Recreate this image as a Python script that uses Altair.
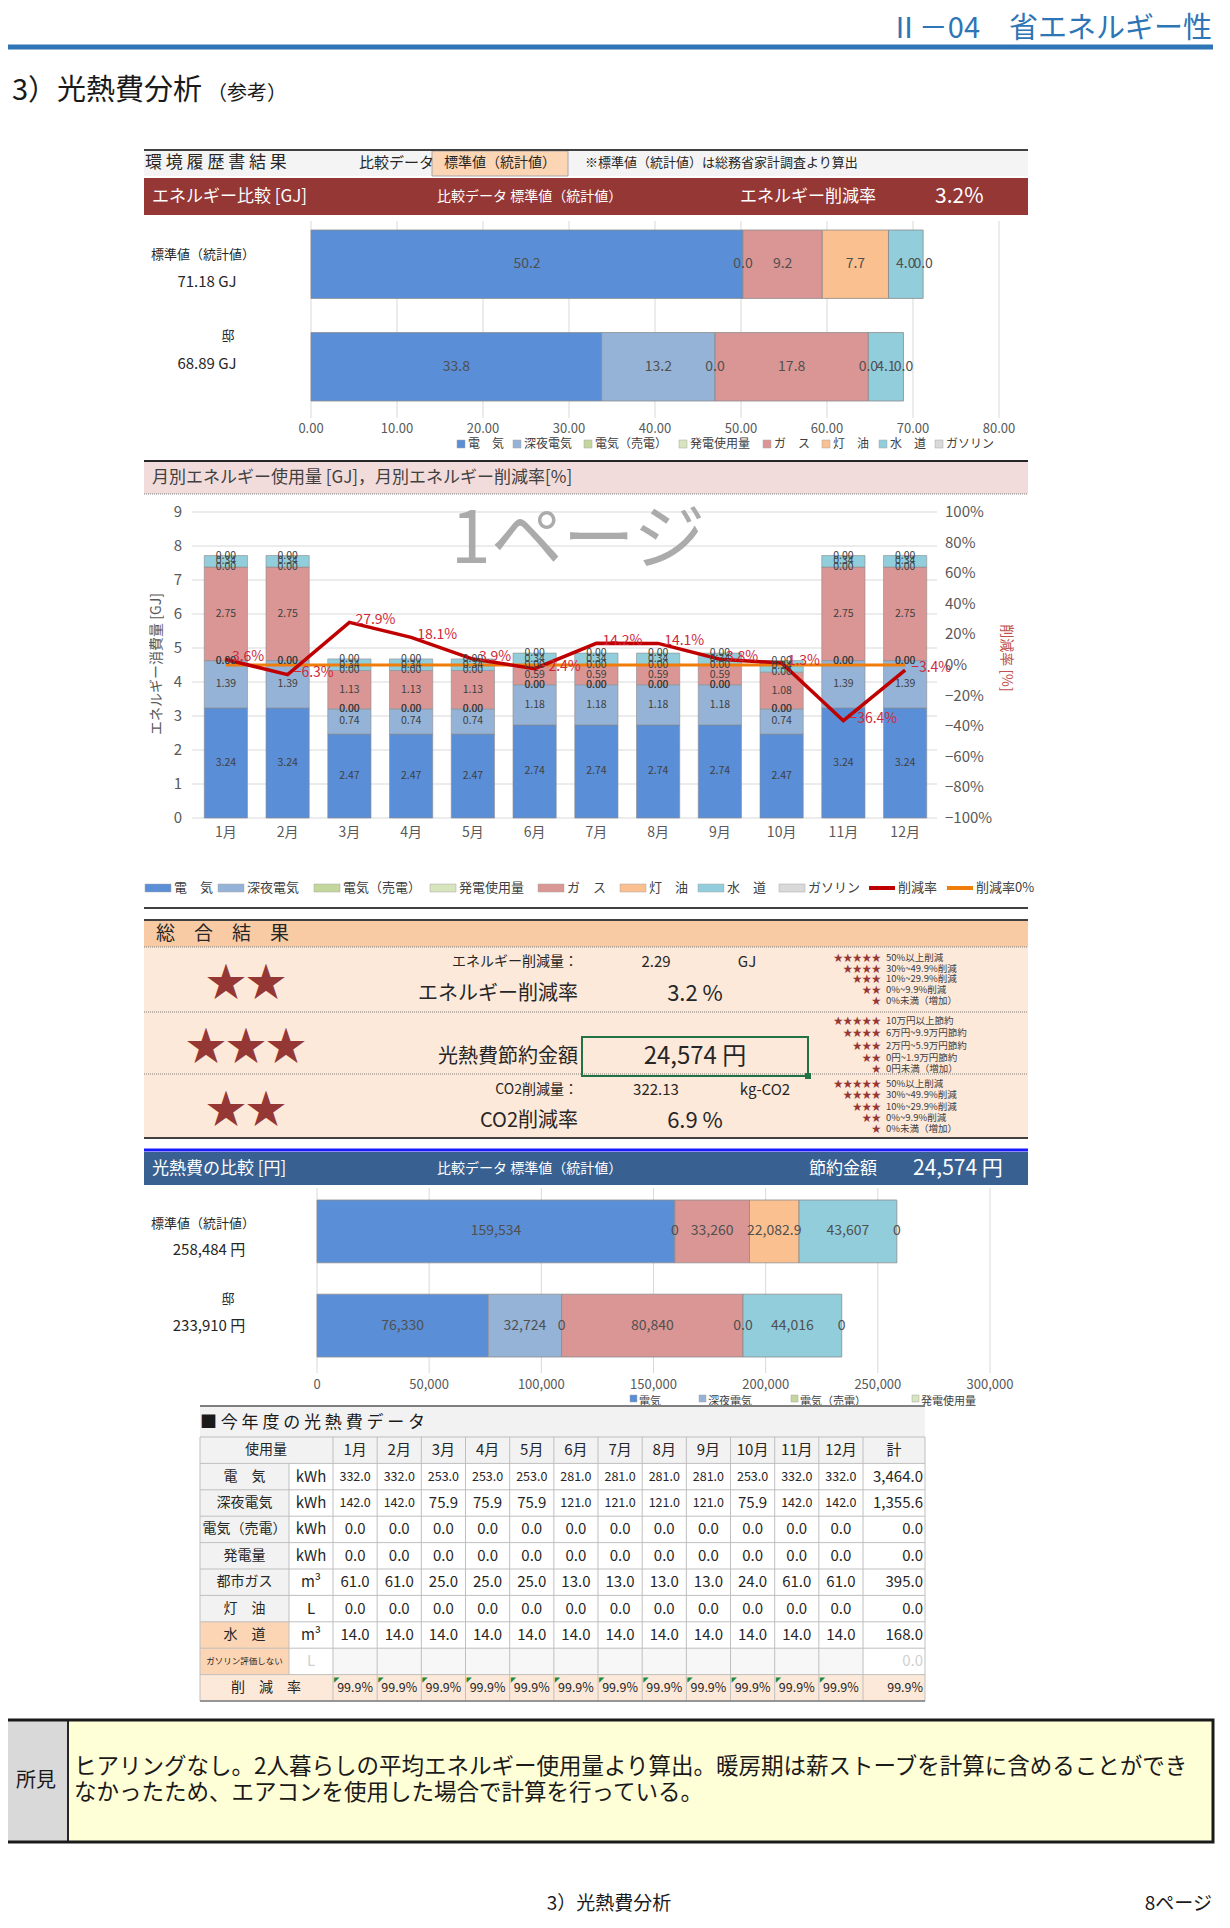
import altair as alt
import pandas as pd

FONT = "Noto Sans CJK JP"
OX, OY = 8, 8  # page margin

# ====================== DATA ======================
series = ["電　気", "深夜電気", "電気（売電）", "発電使用量", "ガ　ス", "灯　油", "水　道", "ガソリン"]
series_colors = ["#5a8ed6", "#95b3d7", "#c3d69b", "#d7e4bd", "#da9694", "#fac090", "#92cddc", "#d9d9d9"]

# energy comparison [GJ]
energy_cats = ["標準値（統計値）", "邸"]
energy_totals = ["71.18 GJ", "68.89 GJ"]
energy_std = [50.23, 0.0, 0.0, 0.0, 9.22, 7.70, 4.03, 0.0]
energy_home = [33.80, 13.18, 0.0, 0.0, 17.83, 0.0, 4.08, 0.0]
energy_std_labels = ["50.2", "0.0", "", "", "9.2", "7.7", "4.0", "0.0"]
energy_home_labels = ["33.8", "13.2", "0.0", "", "17.8", "0.0", "4.1", "0.0"]
energy_ticks = [0, 10, 20, 30, 40, 50, 60, 70, 80]

# monthly energy [GJ]
months = ["1月", "2月", "3月", "4月", "5月", "6月", "7月", "8月", "9月", "10月", "11月", "12月"]
m_denki = [3.24, 3.24, 2.47, 2.47, 2.47, 2.74, 2.74, 2.74, 2.74, 2.47, 3.24, 3.24]
m_shinya = [1.39, 1.39, 0.74, 0.74, 0.74, 1.18, 1.18, 1.18, 1.18, 0.74, 1.39, 1.39]
m_baiden = [0.0, 0.0, 0.0, 0.0, 0.0, 0.0, 0.0, 0.0, 0.0, 0.0, 0.0, 0.0]
m_hatsuden = [0.0, 0.0, 0.0, 0.0, 0.0, 0.0, 0.0, 0.0, 0.0, 0.0, 0.0, 0.0]
m_gas = [2.75, 2.75, 1.13, 1.13, 1.13, 0.59, 0.59, 0.59, 0.59, 1.08, 2.75, 2.75]
m_toyu = [0.0, 0.0, 0.0, 0.0, 0.0, 0.0, 0.0, 0.0, 0.0, 0.0, 0.0, 0.0]
m_suido = [0.34, 0.34, 0.34, 0.34, 0.34, 0.34, 0.34, 0.34, 0.34, 0.34, 0.34, 0.34]
m_gasoline = [0.0, 0.0, 0.0, 0.0, 0.0, 0.0, 0.0, 0.0, 0.0, 0.0, 0.0, 0.0]
reduction_rate = [3.6, -6.3, 27.9, 18.1, 3.9, -2.4, 14.2, 14.1, 3.8, 1.3, -36.4, -3.4]
gj_ticks = [0, 1, 2, 3, 4, 5, 6, 7, 8, 9]
rate_ticks = [-100, -80, -60, -40, -20, 0, 20, 40, 60, 80, 100]

# cost comparison [円]
cost_cats = ["標準値（統計値）", "邸"]
cost_totals = ["258,484 円", "233,910 円"]
cost_std = [159534, 0, 0, 0, 33260, 22082.9, 43607, 0]
cost_home = [76330, 32724, 0, 0, 80840, 0, 44016, 0]
cost_std_labels = ["159,534", "0", "", "", "33,260", "22,082.9", "43,607", "0"]
cost_home_labels = ["76,330", "32,724", "0", "", "80,840", "0.0", "44,016", "0"]
cost_ticks = [0, 50000, 100000, 150000, 200000, 250000, 300000]

# summary
energy_reduction_gj = "2.29"
energy_reduction_rate = "3.2 %"
saving_yen = "24,574 円"
co2_reduction = "322.13"
co2_rate = "6.9 %"
stars = ["★★", "★★★", "★★"]
star_marks = ["★★★★★", "★★★★", "★★★", "★★", "★"]
legend_pct = ["50%以上削減", "30%~49.9%削減", "10%~29.9%削減", "0%~9.9%削減", "0%未満（増加）"]
legend_yen = ["10万円以上節約", "6万円~9.9万円節約", "2万円~5.9万円節約", "0円~1.9万円節約", "0円未満（増加）"]

# usage table
table_rows = ["電　気", "深夜電気", "電気（売電）", "発電量", "都市ガス", "灯　油", "水　道", "ガソリン評価しない"]
table_units = ["kWh", "kWh", "kWh", "kWh", "m³", "L", "m³", "L"]
u_denki = [332.0, 332.0, 253.0, 253.0, 253.0, 281.0, 281.0, 281.0, 281.0, 253.0, 332.0, 332.0]
u_shinya = [142.0, 142.0, 75.9, 75.9, 75.9, 121.0, 121.0, 121.0, 121.0, 75.9, 142.0, 142.0]
u_baiden = [0.0, 0.0, 0.0, 0.0, 0.0, 0.0, 0.0, 0.0, 0.0, 0.0, 0.0, 0.0]
u_hatsuden = [0.0, 0.0, 0.0, 0.0, 0.0, 0.0, 0.0, 0.0, 0.0, 0.0, 0.0, 0.0]
u_gas = [61.0, 61.0, 25.0, 25.0, 25.0, 13.0, 13.0, 13.0, 13.0, 24.0, 61.0, 61.0]
u_toyu = [0.0, 0.0, 0.0, 0.0, 0.0, 0.0, 0.0, 0.0, 0.0, 0.0, 0.0, 0.0]
u_suido = [14.0, 14.0, 14.0, 14.0, 14.0, 14.0, 14.0, 14.0, 14.0, 14.0, 14.0, 14.0]
table_rate = ["99.9%"] * 12
table_rate_total = "99.9%"

remark_lines = [
    "ヒアリングなし。2人暮らしの平均エネルギー使用量より算出。暖房期は薪ストーブを計算に含めることができ",
    "なかったため、エアコンを使用した場合で計算を行っている。",
]

# ====================== HELPERS ======================
def shift(d):
    for c in d.columns:
        if c in ("x", "x2"):
            d[c] = d[c] - OX
        if c in ("y", "y2"):
            d[c] = d[c] - OY
    return d


def rects(rows):
    d = shift(pd.DataFrame(rows, columns=["x", "x2", "y", "y2", "fill", "stroke", "sw"]))
    return alt.Chart(d).mark_rect().encode(
        x=alt.X("x:Q", scale=None, axis=None), x2="x2:Q",
        y=alt.Y("y:Q", scale=None, axis=None), y2="y2:Q",
        fill=alt.Fill("fill:N", scale=None, legend=None),
        stroke=alt.Stroke("stroke:N", scale=None, legend=None),
        strokeWidth=alt.StrokeWidth("sw:Q", scale=None, legend=None),
    )


def rules(rows, dash=None):
    d = shift(pd.DataFrame(rows, columns=["x", "x2", "y", "y2", "color", "sw"]))
    kw = {} if dash is None else {"strokeDash": dash}
    return alt.Chart(d).mark_rule(**kw).encode(
        x=alt.X("x:Q", scale=None, axis=None), x2="x2:Q",
        y=alt.Y("y:Q", scale=None, axis=None), y2="y2:Q",
        color=alt.Color("color:N", scale=None, legend=None),
        strokeWidth=alt.StrokeWidth("sw:Q", scale=None, legend=None),
    )


def texts(rows, align, angle=None):
    d = shift(pd.DataFrame(rows, columns=["x", "y", "t", "size", "color"]))
    kw = dict(align=align, baseline="middle", font=FONT)
    if angle is not None:
        kw["angle"] = angle
    return alt.Chart(d).mark_text(**kw).encode(
        x=alt.X("x:Q", scale=None, axis=None),
        y=alt.Y("y:Q", scale=None, axis=None),
        text="t:N",
        size=alt.Size("size:Q", scale=None, legend=None),
        color=alt.Color("color:N", scale=None, legend=None),
    )


def stack_rows(cats, value_lists, label_lists):
    rows = []
    for cat, vals, labs in zip(cats, value_lists, label_lists):
        cum = 0.0
        for s, col, v, lab in zip(series, series_colors, vals, labs):
            rows.append({"cat": cat, "series": s, "color": col, "start": cum,
                         "end": cum + v, "mid": cum + v / 2, "label": lab, "v": v})
            cum += v
    return pd.DataFrame(rows)


def hbar_block(cats, vals, labs, ticks, xdom, xr, yr, grid_y, tick_y, tick_fmt):
    xs = alt.Scale(domain=xdom, range=[xr[0] - OX, xr[1] - OX], nice=False, zero=False)
    ys = alt.Scale(type="band", domain=cats, range=[yr[0] - OY, yr[1] - OY], paddingInner=0.333, paddingOuter=0)
    d = stack_rows(cats, vals, labs)
    t = pd.DataFrame({"v": ticks})
    grid = alt.Chart(t).mark_rule(color="#d9d9d9", strokeWidth=1).encode(
        x=alt.X("v:Q", scale=xs, axis=None), y=alt.value(grid_y[0] - OY), y2=alt.value(grid_y[1] - OY))
    ticklab = alt.Chart(t).mark_text(font=FONT, fontSize=13, color="#595959").encode(
        x=alt.X("v:Q", scale=xs, axis=None), y=alt.value(tick_y - OY),
        text=alt.Text("v:Q", format=tick_fmt))
    bars = alt.Chart(d[d["v"] > 0]).mark_bar(stroke="#8c8c8c", strokeWidth=0.8).encode(
        x=alt.X("start:Q", scale=xs, axis=None), x2="end:Q",
        y=alt.Y("cat:N", scale=ys, axis=None),
        fill=alt.Fill("color:N", scale=None, legend=None))
    lab = alt.Chart(d[d["label"] != ""]).mark_text(font=FONT, fontSize=14, color="#505050").encode(
        x=alt.X("mid:Q", scale=xs, axis=None),
        y=alt.Y("cat:N", scale=ys, axis=None, bandPosition=0.5),
        text="label:N")
    return [grid, bars], [ticklab, lab]


layers = []

# ====================== BACKGROUNDS ======================
layers.append(rects([
    (144, 1028, 150, 176, "#f4f4f4", "none", 0),
    (432, 568, 151, 176, "#fcd5b4", "#a6a6a6", 1),
    (144, 1028, 178, 215, "#953735", "none", 0),
    (144, 1028, 461, 494, "#f2dcdb", "none", 0),
    (144, 1028, 920, 947, "#f9cba4", "none", 0),
    (144, 1028, 947, 1138, "#fde9d9", "none", 0),
    (144, 1028, 1152, 1185, "#386192", "none", 0),
    (4, 1213, 1720, 1842, "#ffffd7", "none", 0),
    (4, 68, 1720, 1842, "#d9d9d9", "none", 0),
]))

# ====================== CHART A: energy ======================
a_back, a_front = hbar_block(energy_cats, [energy_std, energy_home], [energy_std_labels, energy_home_labels],
                             energy_ticks, [0, 80], (311, 999), (230, 401), (221, 418), 429, ".2f")
layers += a_back

# ====================== CHART C: cost ======================
c_back, c_front = hbar_block(cost_cats, [cost_std, cost_home], [cost_std_labels, cost_home_labels],
                             cost_ticks, [0, 300000], (317, 990), (1200, 1357), (1188, 1373), 1385, ",")
layers += c_back

# ====================== CHART B: monthly ======================
xB = alt.Scale(type="band", domain=months, range=[195 - OX, 936 - OX], paddingInner=0.3, paddingOuter=0.15)
yB = alt.Scale(domain=[0, 9], range=[818 - OY, 512 - OY], nice=False, zero=False)
yR = alt.Scale(domain=[-100, 100], range=[818 - OY, 512 - OY], nice=False, zero=False)

monthly_series = [m_denki, m_shinya, m_baiden, m_hatsuden, m_gas, m_toyu, m_suido, m_gasoline]
rowsB = []
for i, m in enumerate(months):
    cum = 0.0
    for s, col, lst in zip(series, series_colors, monthly_series):
        v = lst[i]
        rowsB.append({"month": m, "series": s, "color": col, "start": cum, "end": cum + v, "mid": cum + v / 2, "v": v})
        cum += v
dfB = pd.DataFrame(rowsB)
dfL = pd.DataFrame({"month": months, "idx": list(range(12)), "rate": reduction_rate, "zero": [0] * 12})

gridB = alt.Chart(pd.DataFrame({"v": gj_ticks})).mark_rule(color="#d9d9d9", strokeWidth=1).encode(
    y=alt.Y("v:Q", scale=yB, axis=None), x=alt.value(192 - OX), x2=alt.value(937 - OX))
barsB = alt.Chart(dfB[dfB["v"] > 0]).mark_bar(stroke="#8c8c8c", strokeWidth=0.6).encode(
    x=alt.X("month:N", scale=xB, axis=None),
    y=alt.Y("start:Q", scale=yB, axis=None), y2="end:Q",
    fill=alt.Fill("color:N", scale=None, legend=None))
zeroLine = alt.Chart(dfL).mark_line(color="#f07d0a", strokeWidth=3).encode(
    x=alt.X("month:N", scale=xB, axis=None, bandPosition=0.5),
    y=alt.Y("zero:Q", scale=yR, axis=None), order=alt.Order("idx:Q"))
rateLine = alt.Chart(dfL).mark_line(color="#c00000", strokeWidth=3.5).encode(
    x=alt.X("month:N", scale=xB, axis=None, bandPosition=0.5),
    y=alt.Y("rate:Q", scale=yR, axis=None), order=alt.Order("idx:Q"))
layers += [gridB, barsB, zeroLine, rateLine]

segLab = alt.Chart(dfB).mark_text(font=FONT, fontSize=10.5, color="#404040").encode(
    x=alt.X("month:N", scale=xB, axis=None, bandPosition=0.5),
    y=alt.Y("mid:Q", scale=yB, axis=None),
    text=alt.Text("v:Q", format=".2f"))
rateLab = alt.Chart(dfL).transform_calculate(lab="format(datum.rate, '.1f') + '%'").mark_text(
    font=FONT, fontSize=14, color="#d0283c", align="left", dx=6, dy=-2).encode(
    x=alt.X("month:N", scale=xB, axis=None, bandPosition=0.5),
    y=alt.Y("rate:Q", scale=yR, axis=None), text="lab:N")
leftTicks = alt.Chart(pd.DataFrame({"v": gj_ticks})).mark_text(
    font=FONT, fontSize=15, color="#595959", align="right").encode(
    y=alt.Y("v:Q", scale=yB, axis=None), x=alt.value(182 - OX), text=alt.Text("v:Q", format="d"))
rightTicks = alt.Chart(pd.DataFrame({"v": rate_ticks})).transform_calculate(
    lab="format(datum.v, 'd') + '%'").mark_text(
    font=FONT, fontSize=15, color="#595959", align="left").encode(
    y=alt.Y("v:Q", scale=yR, axis=None), x=alt.value(945 - OX), text="lab:N")
monthLab = alt.Chart(pd.DataFrame({"month": months})).mark_text(
    font=FONT, fontSize=14, color="#595959").encode(
    x=alt.X("month:N", scale=xB, axis=None, bandPosition=0.5), y=alt.value(833 - OY), text="month:N")

# ====================== LEGENDS ======================
legA_x = [457, 513, 584, 679, 763, 822, 879, 935]
legA = [(x, x + 8, 440, 448, c, "#a6a6a6", 0.5) for x, c in zip(legA_x, series_colors)]
legB_x = [145, 218, 314, 430, 538, 620, 698, 779, 869, 947]
legB = [(x, x + 26, 884, 892, c, "#a6a6a6", 0.5) for x, c in zip(legB_x[:8], series_colors)]
legB += [(legB_x[8], legB_x[8] + 26, 886, 890, "#c00000", "none", 0),
         (legB_x[9], legB_x[9] + 26, 886, 890, "#f07d0a", "none", 0)]
legC_x = [630, 699, 791, 912]
legC = [(x, x + 7, 1395, 1402, c, "#a6a6a6", 0.5) for x, c in zip(legC_x, series_colors[:4])]
layers.append(rects(legA + legB + legC))
leg_text = [(x + 11, 444, s, 12, "#404040") for x, s in zip(legA_x, series)]
leg_text += [(x + 29, 888, s, 13, "#404040") for x, s in zip(legB_x, series + ["削減率", "削減率0%"])]
leg_text_c = [(x + 9, 1402, s.replace("　", ""), 11, "#404040") for x, s in zip(legC_x, series[:4])]
layers.append(texts(leg_text_c, "left"))

# ====================== TABLE ======================
T_TOP, RH = 1437, 26.4
C_LAB, C_UNIT, C_M0, CW, C_TOT, C_END = 200, 289, 333, 44.17, 863, 925
row_y = [T_TOP + k * RH for k in range(11)]
layers.append(rects([
    (C_LAB, C_END, 1406, T_TOP, "#f2f2f2", "none", 0),
    (C_LAB, C_END, row_y[0], row_y[1], "#f2f2f2", "none", 0),
    (C_LAB, C_END, row_y[1], row_y[9], "#ffffff", "none", 0),
    (C_LAB, C_UNIT, row_y[1], row_y[7], "#f2f2f2", "none", 0),
    (C_LAB, C_UNIT, row_y[7], row_y[9], "#fcd5b4", "none", 0),
    (C_M0, C_TOT, row_y[8], row_y[9], "#f7f7f7", "none", 0),
    (C_LAB, C_END, row_y[9], row_y[10], "#fde9d9", "none", 0),
]))
grid_rows = [(C_LAB, C_END, y, y, "#bfbfbf", 1) for y in row_y]
grid_rows += [(x, x, row_y[0], row_y[10], "#bfbfbf", 1)
              for x in [C_LAB] + [C_M0 + i * CW for i in range(13)] + [C_END]]
grid_rows += [(C_UNIT, C_UNIT, row_y[1], row_y[9], "#bfbfbf", 1)]
layers.append(rules(grid_rows))

row_keys = ["hdr"] + table_rows + ["rate"]
colS = alt.Scale(type="band", domain=months, range=[C_M0 - OX, C_TOT - OX], paddingInner=0, paddingOuter=0)
rowS = alt.Scale(type="band", domain=row_keys, range=[T_TOP - OY, row_y[10] - OY], paddingInner=0, paddingOuter=0)

table_values = [u_denki, u_shinya, u_baiden, u_hatsuden, u_gas, u_toyu, u_suido]
cells = []
for r, vals in zip(table_rows, table_values):
    for m, v in zip(months, vals):
        t = f"{v:.1f}"
        cells.append({"row": r, "month": m, "t": t, "s": (15 if len(t) <= 4 else 12.5)})
for m, t in zip(months, table_rate):
    cells.append({"row": "rate", "month": m, "t": t, "s": 12.5})
dfCells = pd.DataFrame(cells)
cellText = alt.Chart(dfCells).mark_text(font=FONT, color="#262626").encode(
    x=alt.X("month:N", scale=colS, axis=None, bandPosition=0.5),
    y=alt.Y("row:N", scale=rowS, axis=None, bandPosition=0.5), text="t:N",
    size=alt.Size("s:Q", scale=None, legend=None))
hdrText = alt.Chart(pd.DataFrame({"month": months, "row": ["hdr"] * 12})).mark_text(
    font=FONT, fontSize=15, color="#262626").encode(
    x=alt.X("month:N", scale=colS, axis=None, bandPosition=0.5),
    y=alt.Y("row:N", scale=rowS, axis=None, bandPosition=0.5), text="month:N")
flags = alt.Chart(pd.DataFrame({"month": months, "row": ["rate"] * 12})).mark_text(
    font="DejaVu Sans", fontSize=7, color="#1e8a3a", align="left", baseline="top", dx=1, dy=1).encode(
    x=alt.X("month:N", scale=colS, axis=None, bandPosition=0),
    y=alt.Y("row:N", scale=rowS, axis=None, bandPosition=0), text=alt.value("◤"))

totals = []
for r, vals in zip(table_rows, table_values):
    totals.append({"row": r, "t": f"{sum(vals):,.1f}", "c": "#262626", "s": 15})
totals.append({"row": table_rows[7], "t": "0.0", "c": "#d0d0d0", "s": 15})
totals.append({"row": "rate", "t": table_rate_total, "c": "#262626", "s": 12.5})
totText = alt.Chart(pd.DataFrame(totals)).mark_text(font=FONT, align="right").encode(
    x=alt.value(923 - OX), y=alt.Y("row:N", scale=rowS, axis=None, bandPosition=0.5), text="t:N",
    color=alt.Color("c:N", scale=None, legend=None), size=alt.Size("s:Q", scale=None, legend=None))
lab_rows = [{"row": r, "t": r, "s": (8.5 if i == 7 else 14), "c": "#262626"} for i, r in enumerate(table_rows)]
labText = alt.Chart(pd.DataFrame(lab_rows)).mark_text(font=FONT).encode(
    x=alt.value(244.5 - OX), y=alt.Y("row:N", scale=rowS, axis=None, bandPosition=0.5), text="t:N",
    color=alt.Color("c:N", scale=None, legend=None), size=alt.Size("s:Q", scale=None, legend=None))
unit_rows = [{"row": r, "t": u, "c": ("#d0d0d0" if i == 7 else "#262626")} for i, (r, u) in enumerate(zip(table_rows, table_units))]
unitText = alt.Chart(pd.DataFrame(unit_rows)).mark_text(font=FONT, fontSize=15).encode(
    x=alt.value(311 - OX), y=alt.Y("row:N", scale=rowS, axis=None, bandPosition=0.5), text="t:N",
    color=alt.Color("c:N", scale=None, legend=None))

# ====================== LINES ======================
layers.append(rules([
    (5, 1213, 47, 47, "#2e75b6", 5),
    (144, 1028, 150, 150, "#404040", 2),
    (144, 1028, 461, 461, "#262626", 2),
    (144, 1028, 908, 908, "#404040", 2),
    (144, 1028, 920, 920, "#404040", 2),
    (144, 1028, 1138, 1138, "#404040", 2),
    (144, 1028, 1150, 1150, "#1a1aff", 3),
    (200, 925, 1406, 1406, "#7f7f7f", 2),
    (200, 925, 1701, 1701, "#7f7f7f", 1.5),
    (68, 68, 1720, 1842, "#262626", 2),
]))
layers.append(rules([
    (144, 1028, 494, 494, "#7f7f7f", 1),
    (144, 1028, 947, 947, "#7f7f7f", 1),
    (144, 1028, 1012, 1012, "#7f7f7f", 1),
    (144, 1028, 1074, 1074, "#7f7f7f", 1),
], dash=[1, 1]))
layers.append(rects([
    (582, 808, 1037, 1076, "none", "#217346", 2),
    (805, 811, 1073, 1079, "#217346", "none", 0),
    (4, 1213, 1720, 1842, "none", "#1a1a1a", 3),
]))

# ====================== DATA LABELS ======================
layers += a_front + c_front
layers += [segLab, rateLab, leftTicks, rightTicks, monthLab]
layers += [cellText, hdrText, flags, totText, labText, unitText]

# ====================== TEXTS ======================
left_rows = [
    (12, 91, "3）光熱費分析", 29, "#1a1a1a"),
    (207, 94, "（参考）", 20, "#1a1a1a"),
    (145, 163, "環 境 履 歴 書 結 果", 17, "#262626"),
    (359, 163, "比較データ", 15, "#262626"),
    (585, 163, "※標準値（統計値）は総務省家計調査より算出", 13, "#262626"),
    (152, 197, "エネルギー比較 [GJ]", 17, "#ffffff"),
    (437, 197, "比較データ 標準値（統計値）", 14, "#ffffff"),
    (740, 197, "エネルギー削減率", 17, "#ffffff"),
    (935, 197, "3.2%", 21, "#ffffff"),
    (152, 478, "月別エネルギー使用量 [GJ]，月別エネルギー削減率[%]", 17, "#404040"),
    (156, 934, "総　合　結　果", 19, "#262626"),
    (152, 1169, "光熱費の比較 [円]", 17, "#ffffff"),
    (437, 1169, "比較データ 標準値（統計値）", 14, "#ffffff"),
    (809, 1169, "節約金額", 17, "#ffffff"),
    (913, 1169, saving_yen, 21, "#ffffff"),
    (200, 1423, "■ 今 年 度 の 光 熱 費 デ ー タ", 17, "#1a1a1a"),
    (74, 1767, remark_lines[0], 22.5, "#1a1a1a"),
    (74, 1793, remark_lines[1], 22.5, "#1a1a1a"),
]
left_rows += leg_text
star_y = [[958, 968.5, 979, 990, 1001], [1021, 1033, 1045.5, 1057.5, 1069], [1084, 1095, 1106.5, 1117.5, 1129]]
right_rows = [
    (1212, 29, "Ⅱ－04　省エネルギー性", 29, "#2e75b6"),
    (578, 962, "エネルギー削減量：", 14, "#262626"),
    (578, 994, "エネルギー削減率", 20, "#262626"),
    (578, 1057, "光熱費節約金額", 20, "#262626"),
    (578, 1090, "CO2削減量：", 14, "#262626"),
    (578, 1121, "CO2削減率", 20, "#262626"),
    (1212, 1904, "8ページ", 19, "#1a1a1a"),
]
for g, labs in enumerate([legend_pct, legend_yen, legend_pct]):
    for k in range(5):
        right_rows.append((881, star_y[g][k], star_marks[k], 9.5, "#953735"))
        left_rows.append((886, star_y[g][k], labs[k], 9.5, "#404040"))
center_rows = [
    (500, 163, "標準値（統計値）", 14, "#262626"),
    (246, 984, stars[0], 40, "#953735"),
    (246, 1048, stars[1], 40, "#953735"),
    (246, 1111, stars[2], 40, "#953735"),
    (656, 962, energy_reduction_gj, 15, "#262626"),
    (747, 962, "GJ", 15, "#262626"),
    (695, 994, energy_reduction_rate, 22, "#262626"),
    (695, 1057, saving_yen, 24, "#262626"),
    (656, 1090, co2_reduction, 15, "#262626"),
    (765, 1090, "kg-CO2", 15, "#262626"),
    (695, 1121, co2_rate, 22, "#262626"),
    (578, 541, "1ページ", 72, "#ababab"),
    (36, 1781, "所見", 20, "#1a1a1a"),
    (609, 1904, "3）光熱費分析", 19, "#1a1a1a"),
    (203, 255, energy_cats[0], 13, "#262626"),
    (207, 282, energy_totals[0], 15, "#262626"),
    (228, 336, energy_cats[1], 13, "#262626"),
    (207, 364, energy_totals[1], 15, "#262626"),
    (203, 1224, cost_cats[0], 13, "#262626"),
    (209, 1250, cost_totals[0], 15, "#262626"),
    (228, 1299, cost_cats[1], 13, "#262626"),
    (209, 1326, cost_totals[1], 15, "#262626"),
    (266, 1450, "使用量", 14, "#262626"),
    (894, 1450, "計", 15, "#262626"),
    (266, row_y[9] + RH / 2, "削　減　率", 14, "#262626"),
]
layers.append(texts(left_rows, "left"))
layers.append(texts(right_rows, "right"))
layers.append(texts(center_rows, "center"))
layers.append(texts([(157, 664, "エネルギー消費量 [GJ]", 14, "#595959")], "center", angle=270))
layers.append(texts([(1006, 658, "削減率 [%]", 14, "#c0504d")], "center", angle=90))

chart = alt.layer(*layers).resolve_scale(x="independent", y="independent").properties(
    width=1214, height=1908, padding=0, background="white",
    autosize=alt.AutoSizeParams(type="none"),
).configure_view(stroke=None)

chart.save("out.html", embed_options={"renderer": "svg", "actions": False})
